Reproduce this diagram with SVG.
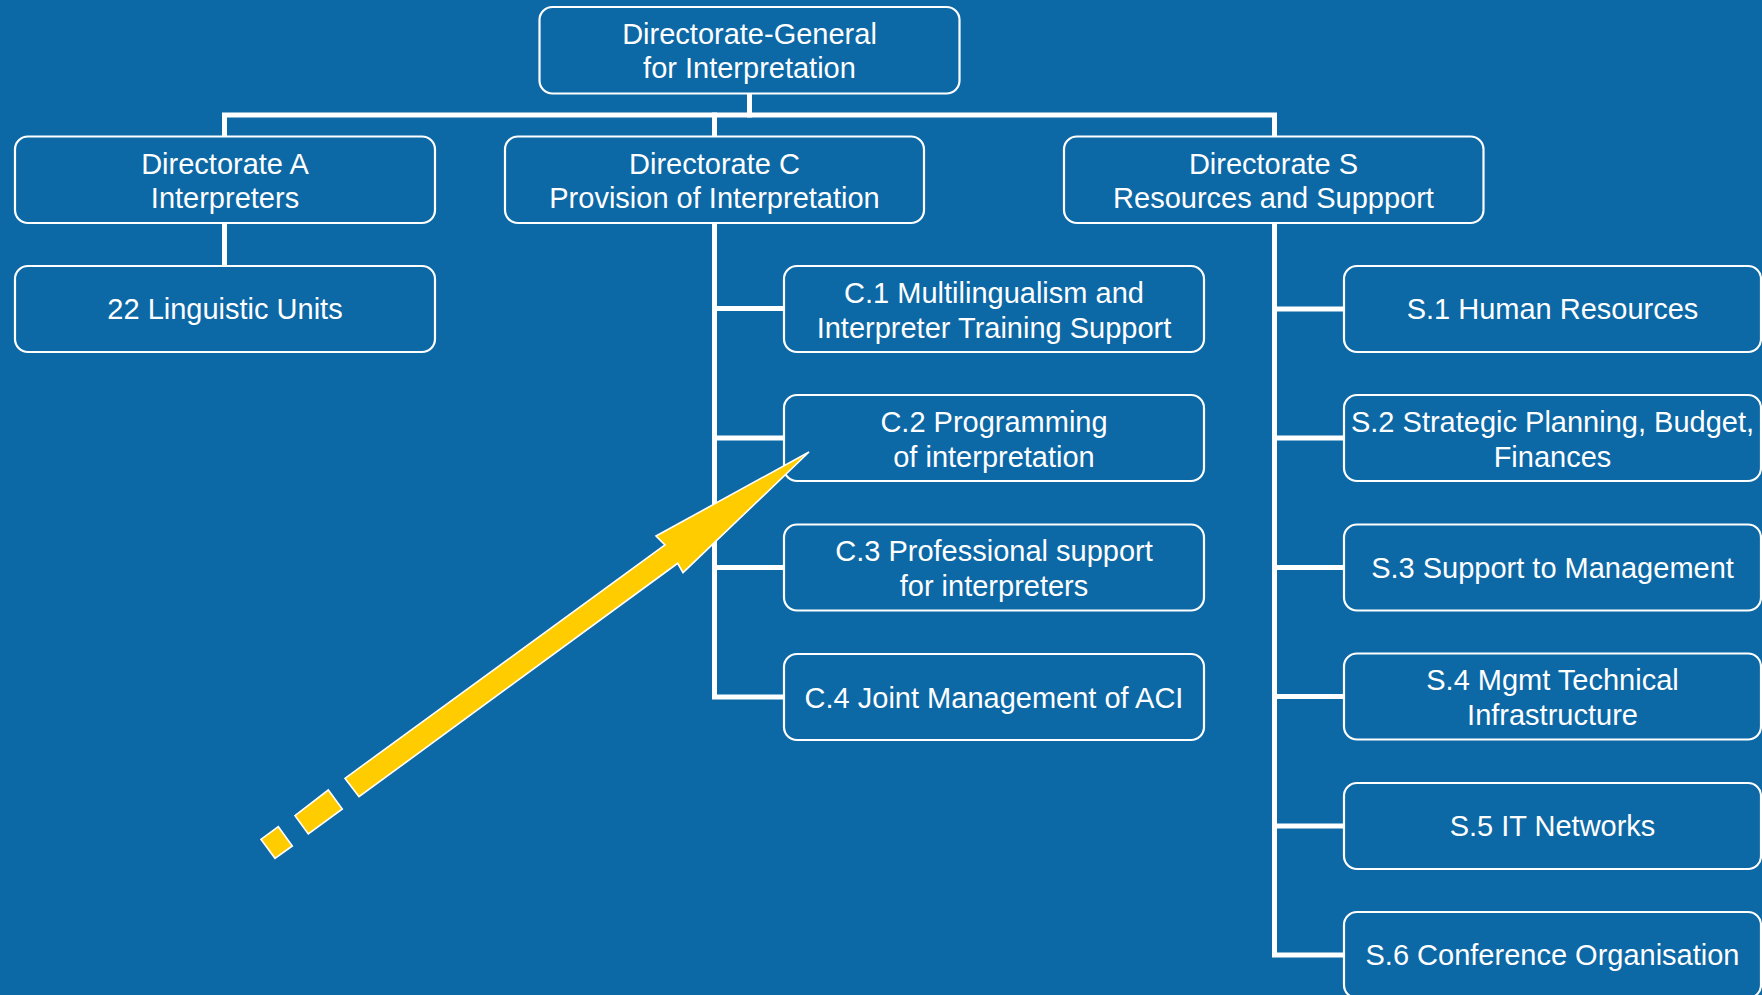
<svg xmlns="http://www.w3.org/2000/svg" width="1762" height="995" viewBox="0 0 1762 995">
<style>
.box{fill:#0D68A6;stroke:#FFFFFF;stroke-width:2.2}
.t{font-family:"Liberation Sans",Arial,sans-serif;font-size:29px;fill:#FFFFFF;text-anchor:middle}
.ln{fill:none;stroke:#FFFFFF;stroke-width:5;stroke-linejoin:miter;stroke-linecap:square}
.arr{fill:#FFCC00;stroke:#FFFFFF;stroke-width:1.6;stroke-linejoin:miter}
</style>
<rect x="0" y="0" width="1762" height="995" fill="#0D68A6"/>
<g id="connectors">
<path class="ln" d="M749.5 95 V115"/>
<path class="ln" d="M224.5 134 V115 H1274.5 V134"/>
<path class="ln" d="M714.5 115 V134"/>
<path class="ln" d="M224.5 224 V264"/>
<path class="ln" d="M714.5 224 V697 H782"/>
<path class="ln" d="M714.5 308.5 H782 M714.5 438 H782 M714.5 567.5 H782"/>
<path class="ln" d="M1274.5 224 V955 H1342"/>
<path class="ln" d="M1274.5 309 H1342 M1274.5 438 H1342 M1274.5 567.5 H1342 M1274.5 696.5 H1342 M1274.5 826 H1342"/>
</g>
<g id="dg"><rect class="box" x="539.5" y="7" width="420" height="86.5" rx="13"/><text class="t" x="749.5" y="44">Directorate-General</text><text class="t" x="749.5" y="78">for Interpretation</text></g>
<g id="dirA"><rect class="box" x="15" y="136.5" width="420" height="86.5" rx="13"/><text class="t" x="225" y="173.5">Directorate A</text><text class="t" x="225" y="208">Interpreters</text></g>
<g id="dirC"><rect class="box" x="505" y="136.5" width="419" height="86.5" rx="13"/><text class="t" x="714.5" y="173.5">Directorate C</text><text class="t" x="714.5" y="208">Provision of Interpretation</text></g>
<g id="dirS"><rect class="box" x="1064" y="136.5" width="419.5" height="86.5" rx="13"/><text class="t" x="1273.5" y="173.5">Directorate S</text><text class="t" x="1273.5" y="208">Resources and Suppport</text></g>
<g id="lu"><rect class="box" x="15" y="266" width="420" height="86" rx="13"/><text class="t" x="225" y="319">22 Linguistic Units</text></g>
<g id="c1"><rect class="box" x="784" y="266" width="420" height="86" rx="13"/><text class="t" x="994" y="302.5">C.1 Multilingualism and</text><text class="t" x="994" y="337.5">Interpreter Training Support</text></g>
<g id="c2"><rect class="box" x="784" y="395" width="420" height="86" rx="13"/><text class="t" x="994" y="431.5">C.2 Programming</text><text class="t" x="994" y="466.5">of interpretation</text></g>
<g id="c3"><rect class="box" x="784" y="524.5" width="420" height="86" rx="13"/><text class="t" x="994" y="561">C.3 Professional support</text><text class="t" x="994" y="596">for interpreters</text></g>
<g id="c4"><rect class="box" x="784" y="654" width="420" height="86" rx="13"/><text class="t" x="994" y="707.5">C.4 Joint Management of ACI</text></g>
<g id="s1"><rect class="box" x="1344" y="266" width="417" height="86" rx="13"/><text class="t" x="1552.5" y="319">S.1 Human Resources</text></g>
<g id="s2"><rect class="box" x="1344" y="395" width="417" height="86" rx="13"/><text class="t" x="1552.5" y="431.5">S.2 Strategic Planning, Budget,</text><text class="t" x="1552.5" y="466.5">Finances</text></g>
<g id="s3"><rect class="box" x="1344" y="524.5" width="417" height="86" rx="13"/><text class="t" x="1552.5" y="577.5">S.3 Support to Management</text></g>
<g id="s4"><rect class="box" x="1344" y="653.5" width="417" height="86" rx="13"/><text class="t" x="1552.5" y="690">S.4 Mgmt Technical</text><text class="t" x="1552.5" y="724.5">Infrastructure</text></g>
<g id="s5"><rect class="box" x="1344" y="783" width="417" height="86" rx="13"/><text class="t" x="1552.5" y="836">S.5 IT Networks</text></g>
<g id="s6"><rect class="box" x="1344" y="912" width="417" height="86" rx="13"/><text class="t" x="1552.5" y="965">S.6 Conference Organisation</text></g>
<g id="pointer">
<polygon class="arr" points="345,778.3 665,545 656,536 809,452 683,572.7 677.7,563.3 359,796.7"/>
<polygon class="arr" points="295,815.7 328.3,790 342.3,809 308.3,834"/>
<polygon class="arr" points="261,839.3 278.3,826.7 292.3,846 275,858.3"/>
</g>
</svg>
